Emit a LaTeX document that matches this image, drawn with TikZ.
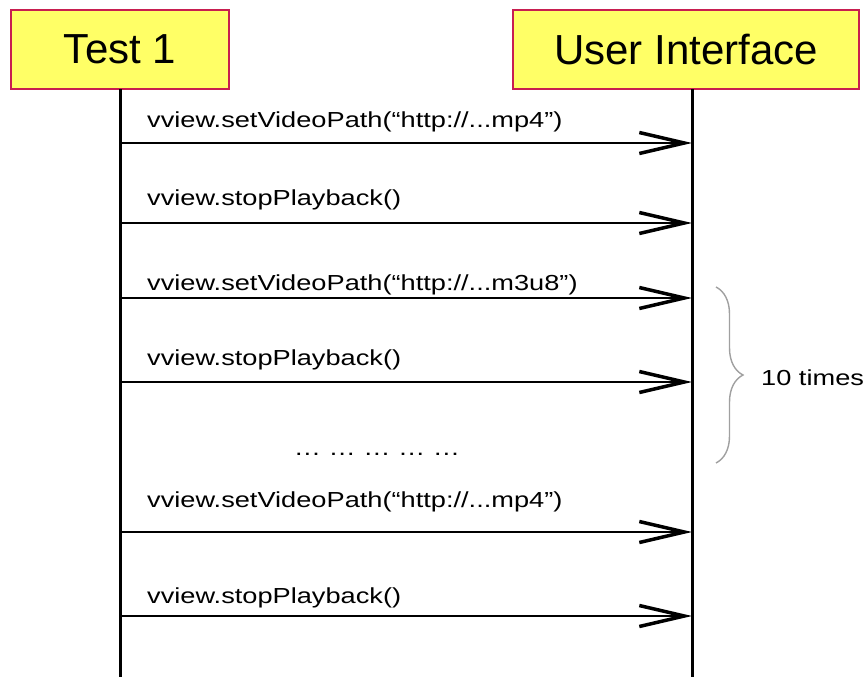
\documentclass[tikz,border=0pt]{standalone}
\usepackage{fontspec}
\usepackage{graphicx}
\setmainfont{Liberation Sans}
\usetikzlibrary{arrows.meta,decorations.pathreplacing}

\definecolor{boxfill}{RGB}{255,255,102}
\definecolor{boxline}{RGB}{200,30,80}
\definecolor{bracegray}{RGB}{160,160,160}

\tikzset{
  actor/.style={draw=boxline, line width=2pt, fill=boxfill, inner sep=0pt,
    font=\fontsize{42}{46}\selectfont},
  lifeline/.style={line width=3pt, black},
  msg/.style={line width=1.6pt, black,
    -{Straight Barb[length=45pt,width=21pt,line width=3.5pt]}},
  msglabel/.style={anchor=west, inner sep=0pt},
  note/.style={inner sep=0pt}
}
\newcommand{\msgtext}[1]{\scalebox{1}[0.8]{\fontsize{27.2}{30}\selectfont #1}}

\begin{document}
\begin{tikzpicture}[x=1pt,y=-1pt]
  \useasboundingbox (0,0) rectangle (866,677);

  % participants
  \node[actor, minimum width=218pt, minimum height=79pt] (test) at (120,49.5) {Test 1};
  \node[actor, minimum width=346pt, minimum height=79pt] (ui) at (686,49.5) {User Interface};

  % lifelines
  \coordinate (testtop) at (120,89);
  \coordinate (testbot) at (120,677);
  \coordinate (uitop) at (692,89);
  \coordinate (uibot) at (692,677);
  \draw[lifeline] (testtop) -- (testbot);
  \draw[lifeline] (uitop) -- (uibot);

  % message end points on the lifelines
  \foreach \i/\y in {1/143, 2/223, 3/298, 4/382, 5/532, 6/616} {
    \coordinate (s\i) at (120,\y);
    \coordinate (r\i) at (692,\y);
  }

  % messages
  \foreach \i in {1,...,6} { \draw[msg] (s\i) -- (r\i); }

  % message labels
  \node[msglabel] (m1) at (147,122) {\msgtext{vview.setVideoPath(“http://...mp4”)}};
  \node[msglabel] (m2) at (147,200) {\msgtext{vview.stopPlayback()}};
  \node[msglabel] (m3) at (147,285) {\msgtext{vview.setVideoPath(“http://...m3u8”)}};
  \node[msglabel] (m4) at (147,360) {\msgtext{vview.stopPlayback()}};
  \node[msglabel] (m5) at (147,502) {\msgtext{vview.setVideoPath(“http://...mp4”)}};
  \node[msglabel] (m6) at (147,598) {\msgtext{vview.stopPlayback()}};

  % elided repetitions
  \node[note] (dots) at (377,454) {\msgtext{… … … … …}};

  % repetition brace
  \coordinate (bracetop) at (716,287);
  \coordinate (bracebot) at (716,463);
  \draw[bracegray, line width=1.4pt, decorate,
        decoration={brace, amplitude=27pt}] (bracetop) -- (bracebot);
  \node[note, anchor=west] (times) at (761,378) {\msgtext{10 times}};
\end{tikzpicture}
\end{document}
